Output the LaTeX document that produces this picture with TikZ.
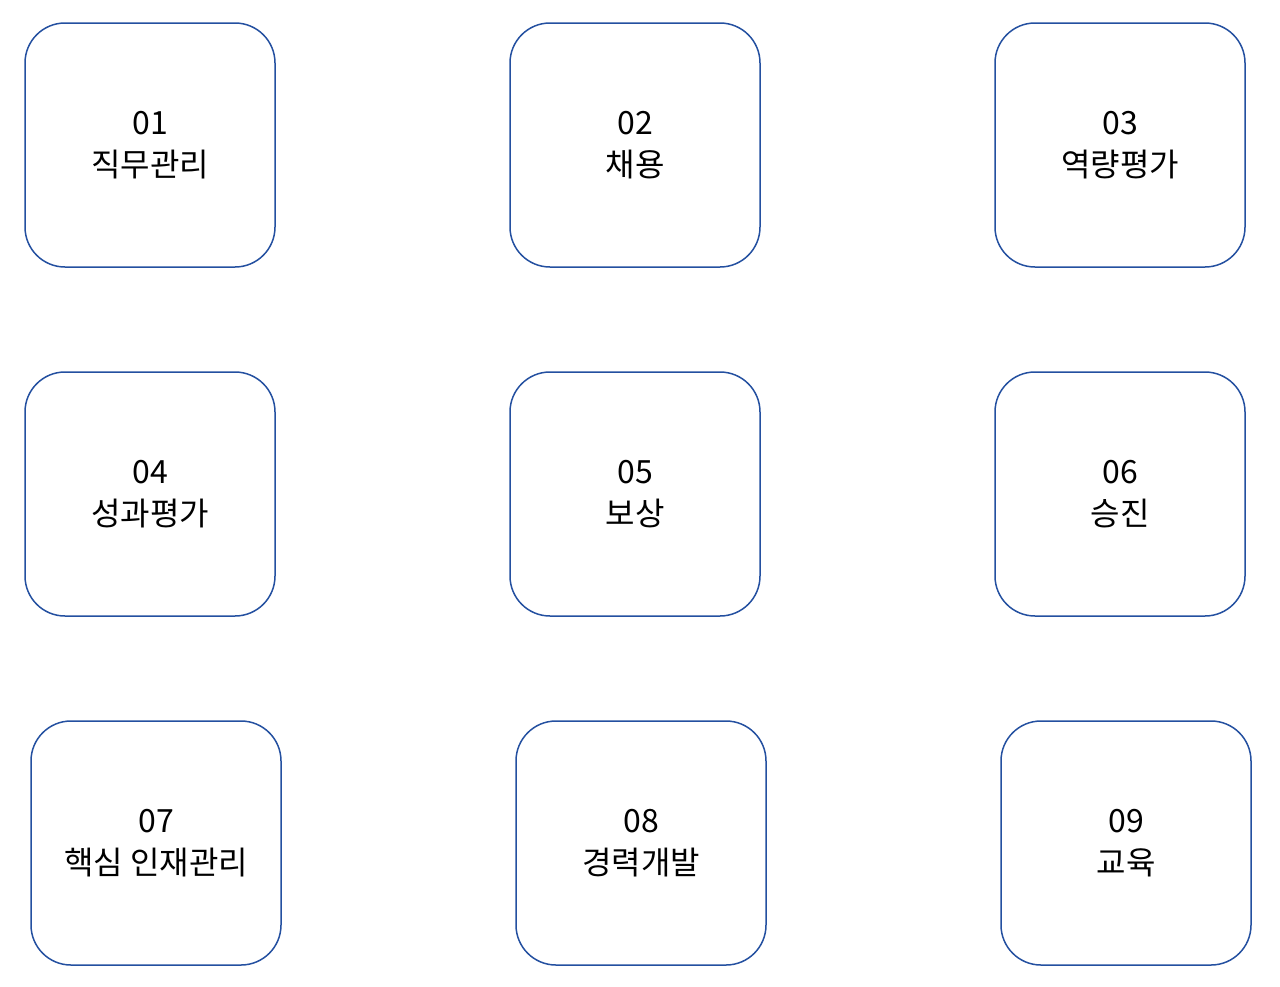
\documentclass[tikz,border=0pt]{standalone}
\usepackage{fontspec}
\newfontfamily\kr{Noto Sans CJK KR}[BoldFont={Noto Sans CJK KR Bold}]
\definecolor{bd}{HTML}{2450A0}
\begin{document}
\begin{tikzpicture}[x=1pt,y=-1pt,
  card/.style={draw=bd,line width=1.5pt,rounded corners=40pt,minimum width=250pt,minimum height=244pt,align=center,font=\kr\fontsize{32}{42}\selectfont,inner sep=0pt}]
\useasboundingbox (0,0) rectangle (1280,986);
\node[card] (a) at (150,145) {01\\직무관리};
\node[card] (b) at (635,145) {02\\채용};
\node[card] (c) at (1120,145) {03\\역량평가};
\node[card] (d) at (150,494) {04\\성과평가};
\node[card] (e) at (635,494) {05\\보상};
\node[card] (f) at (1120,494) {06\\승진};
\node[card] (g) at (156,843) {07\\핵심 인재관리};
\node[card] (h) at (641,843) {08\\경력개발};
\node[card] (i) at (1126,843) {09\\교육};
\end{tikzpicture}
\end{document}
